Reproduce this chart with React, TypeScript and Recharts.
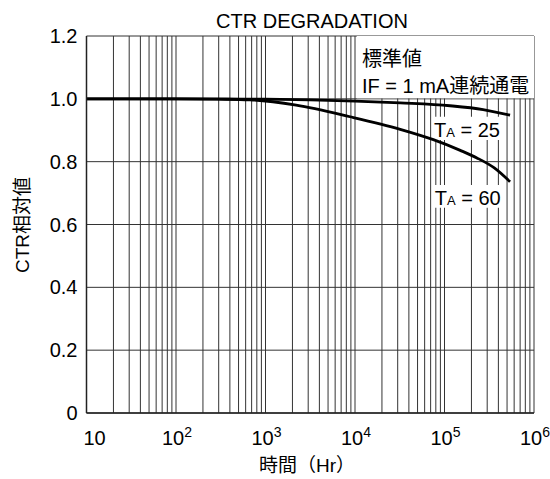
import { LineChart, Line, XAxis, YAxis, CartesianGrid, ReferenceArea } from 'recharts'

const FONT = '"Liberation Sans", Arial, "Noto Sans CJK JP", sans-serif'

// x axis: hours, log scale
const decades = [10, 100, 1000, 10000, 100000, 1000000]
const decadeExponents = ['', '2', '3', '4', '5', '6']
const minorMultipliers = [1, 2, 3, 4, 5, 6, 7, 8, 9]
const yTicks = [0, 0.2, 0.4, 0.6, 0.8, 1.0, 1.2]

const ta25Hours = [10, 100, 1000, 10000, 32000, 115000, 270000, 540000]
const ta25Ratio = [1.0, 1.0, 0.999, 0.993, 0.987, 0.978, 0.966, 0.948]
const ta60Hours = [10, 100, 300, 670, 2200, 8800, 32000, 75000, 150000, 230000, 360000, 540000]
const ta60Ratio = [1.0, 1.0, 0.999, 0.997, 0.98, 0.943, 0.903, 0.87, 0.836, 0.812, 0.78, 0.736]

const ta25 = ta25Hours.map((t, i) => ({ t, v: ta25Ratio[i] }))
const ta60 = ta60Hours.map((t, i) => ({ t, v: ta60Ratio[i] }))

const gridTicks = decades
  .slice(0, -1)
  .flatMap((d) => minorMultipliers.map((m) => d * m))
  .concat(decades[decades.length - 1])

function XTick({ x, y, payload }: any) {
  const i = decades.indexOf(payload.value)
  if (i < 0) return null
  const exp = decadeExponents[i]
  return (
    <text x={exp ? x + 1 : x + 8} y={y + 30} textAnchor="middle" fontSize={20} fill="#000" fontFamily={FONT}>
      10
      {exp && (
        <tspan dy={-8} fontSize={14}>
          {exp}
        </tspan>
      )}
    </text>
  )
}

function YTick({ x, y, payload }: any) {
  const v = payload.value
  return (
    <text x={x - 7} y={y + 7} textAnchor="end" fontSize={20} fill="#000" fontFamily={FONT}>
      {v === 0 ? '0' : v.toFixed(1)}
    </text>
  )
}

function TaLabel(temp: string) {
  return ({ viewBox }: any) => (
    <text x={viewBox.x + 2} y={viewBox.y + viewBox.height - 3} fontSize={20} fill="#000" fontFamily={FONT}>
      T<tspan fontSize={13}>A</tspan>
      <tspan fontSize={20}>{` = ${temp}`}</tspan>
    </text>
  )
}

function NoteLabel({ viewBox }: any) {
  return (
    <g fontFamily={FONT} fontSize={20} fill="#000">
      <text x={viewBox.x + 5} y={viewBox.y + 30}>標準値</text>
      <text x={viewBox.x + 5} y={viewBox.y + 57}>IF = 1 mA連続通電</text>
    </g>
  )
}

export default function App() {
  return (
    <div style={{ position: 'absolute', left: 0, top: 0, width: 550, height: 479, background: '#fff' }}>
      <LineChart
        width={550}
        height={479}
        margin={{ top: 36, right: 16, bottom: 36, left: 36.5 }}
      >
        <CartesianGrid stroke="#333" strokeWidth={1} />
        <XAxis
          dataKey="t"
          type="number"
          scale="log"
          domain={[10, 1000000]}
          ticks={gridTicks}
          interval={0}
          allowDataOverflow
          height={30}
          tick={<XTick />}
          tickLine={false}
          tickSize={0}
          axisLine={{ stroke: '#222', strokeWidth: 1.5 }}
        />
        <YAxis
          type="number"
          domain={[0, 1.2]}
          ticks={yTicks}
          interval={0}
          width={50}
          tick={<YTick />}
          tickLine={false}
          tickSize={0}
          axisLine={{ stroke: '#222', strokeWidth: 1.5 }}
        />
        <ReferenceArea
          x1={10500}
          x2={1000000}
          y1={1.002}
          y2={1.2}
          fill="#fff"
          fillOpacity={1}
          stroke="none"
          ifOverflow="visible"
          label={NoteLabel}
        />
        <ReferenceArea
          x1={72600}
          x2={417000}
          y1={0.869}
          y2={0.943}
          fill="#fff"
          fillOpacity={1}
          stroke="none"
          ifOverflow="visible"
          label={TaLabel('25')}
        />
        <ReferenceArea
          x1={74000}
          x2={450000}
          y1={0.653}
          y2={0.726}
          fill="#fff"
          fillOpacity={1}
          stroke="none"
          ifOverflow="visible"
          label={TaLabel('60')}
        />
        <Line data={ta25} dataKey="v" type="monotone" stroke="#000" strokeWidth={2.8} dot={false} isAnimationActive={false} />
        <Line data={ta60} dataKey="v" type="monotone" stroke="#000" strokeWidth={2.8} dot={false} isAnimationActive={false} />
        <text x={312} y={28} textAnchor="middle" fontSize={20} fill="#000" fontFamily={FONT}>
          CTR DEGRADATION
        </text>
        <text x={307} y={472} textAnchor="middle" fontSize={19} fill="#000" fontFamily={FONT}>
          時間（Hr）
        </text>
        <text
          x={22}
          y={225}
          transform="rotate(-90, 22, 225)"
          textAnchor="middle"
          dominantBaseline="central"
          fontSize={19}
          fill="#000"
          fontFamily={FONT}
        >
          CTR相対値
        </text>
      </LineChart>
    </div>
  )
}
